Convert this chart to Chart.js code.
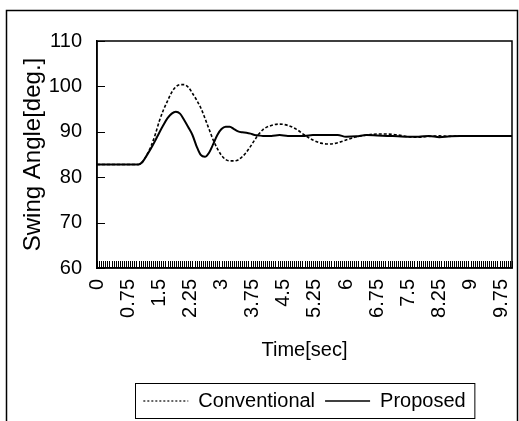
<!DOCTYPE html>
<html>
<head>
<meta charset="utf-8">
<script src="https://cdn.jsdelivr.net/npm/chart.js@4.4.0/dist/chart.umd.min.js"></script>
<style>
  html, body { margin: 0; padding: 0; background: #fff; }
  canvas { display: block; }
</style>
</head>
<body>
<canvas id="swingChart" width="519" height="421"></canvas>
<script>
// time [sec]
const times = [0, 0.5, 1.0, 1.1, 1.2, 1.3, 1.4, 1.5, 1.6, 1.7, 1.8, 1.9, 2.0, 2.1, 2.2, 2.3, 2.4, 2.5,
  2.6, 2.7, 2.8, 2.9, 3.0, 3.1, 3.2, 3.3, 3.4, 3.5, 3.6, 3.7, 3.8, 3.9, 4.0, 4.2, 4.4, 4.6, 4.8,
  5.0, 5.2, 5.4, 5.6, 5.8, 6.0, 6.25, 6.5, 6.75, 7.0, 7.25, 7.5, 7.75, 8.0, 8.25, 8.5, 8.75, 9.0, 9.5, 10.0];

// swing angle [deg.]
const conventional = [82.8, 82.8, 82.8, 83.4, 84.9, 86.8, 89.3, 92.3, 94.8, 96.8, 98.7, 99.9, 100.4, 100.4, 99.8, 98.5, 97.0, 95.3,
  93.0, 90.6, 88.2, 86.3, 84.8, 83.9, 83.6, 83.6, 83.8, 84.5, 85.5, 86.8, 88.2, 89.5, 90.5, 91.4, 91.7, 91.4, 90.6,
  89.3, 88.2, 87.5, 87.3, 87.6, 88.2, 88.9, 89.3, 89.5, 89.5, 89.3, 88.9, 88.8, 89.0, 89.1, 89.0, 89.1, 89.1, 89.1, 89.1];

const proposed = [82.8, 82.8, 82.8, 83.4, 84.8, 86.3, 88.0, 89.8, 91.5, 93.0, 94.0, 94.4, 94.0, 92.6, 91.0, 89.3, 86.8, 84.9,
  84.5, 85.4, 87.3, 89.3, 90.6, 91.1, 91.1, 90.6, 90.1, 89.9, 89.8, 89.6, 89.3, 89.2, 89.1, 89.1, 89.3, 89.1, 89.1,
  89.1, 89.3, 89.3, 89.3, 89.3, 88.9, 89.0, 89.3, 89.2, 89.1, 89.0, 88.9, 88.9, 89.1, 88.8, 89.0, 89.1, 89.1, 89.1, 89.1];

const yMin = 60, yMax = 110, yStep = 10;
const xMin = 0, xMax = 10;
const xTickStep = 0.05;   // small hash marks along the time axis
const xLabelStep = 0.75;  // labelled ticks

const font = '"Liberation Sans", Arial, sans-serif';

// frame, inward tick marks, outer border and legend box
const frameAndTicks = {
  id: 'frameAndTicks',
  afterLayout(chart) {
    // centre the legend under the plot area
    const lg = chart.legend;
    const a = chart.chartArea;
    const dx = (a.left + a.right) / 2 - (lg.left + lg.right) / 2;
    lg.left += dx;
    lg.right += dx;
  },
  afterDraw(chart) {
    const {ctx, chartArea: a, scales: {x, y}} = chart;
    ctx.save();
    ctx.strokeStyle = '#000';
    ctx.lineWidth = 1;
    ctx.beginPath();
    x.ticks.forEach(t => {
      const px = Math.round(x.getPixelForValue(t.value)) + 0.5;
      ctx.moveTo(px, a.bottom);
      ctx.lineTo(px, a.bottom - 7);
    });
    y.ticks.forEach(t => {
      const py = Math.round(y.getPixelForValue(t.value)) + 0.5;
      ctx.moveTo(a.left, py);
      ctx.lineTo(a.left + 8, py);
    });
    ctx.stroke();

    ctx.lineWidth = 1.5;
    ctx.strokeRect(a.left, a.top, a.right - a.left, a.bottom - a.top);

    // outer chart border
    ctx.strokeRect(6.5, 10.5, chart.width - 8, chart.height);

    // legend box
    const lg = chart.legend;
    const pad = lg.options.labels.padding;
    const start = (lg.left + pad + lg.right - lg.lineWidths[0]) / 2;
    const end = start + lg.lineWidths[0] - pad;
    ctx.lineWidth = 1;
    ctx.strokeRect(Math.round(start) - 7.5, lg.top + 2.5, end - start + 17, 35);
    ctx.restore();
  }
};

const ctx = document.getElementById('swingChart').getContext('2d');

new Chart(ctx, {
  type: 'line',
  data: {
    datasets: [{
      label: 'Conventional',
      data: times.map((t, i) => ({x: t, y: conventional[i]})),
      borderColor: '#000',
      backgroundColor: '#000',
      borderWidth: 1.6,
      borderDash: [3, 2],
      pointRadius: 0,
      cubicInterpolationMode: 'monotone',
      fill: false
    }, {
      label: 'Proposed',
      data: times.map((t, i) => ({x: t, y: proposed[i]})),
      borderColor: '#000',
      backgroundColor: '#000',
      borderWidth: 2,
      pointRadius: 0,
      cubicInterpolationMode: 'monotone',
      fill: false
    }]
  },
  options: {
    responsive: false,
    animation: false,
    layout: { padding: { left: 6, top: 41, right: 7, bottom: 0 } },
    scales: {
      x: {
        type: 'linear',
        min: xMin,
        max: xMax,
        grid: { display: true, drawOnChartArea: false, drawTicks: false },
        border: { display: true, color: '#000', width: 1.5 },
        ticks: {
          stepSize: xTickStep,
          autoSkip: false,
          minRotation: 90,
          maxRotation: 90,
          padding: 11,
          color: '#000',
          font: { family: font, size: 20 },
          callback: v => {
            const k = v / xLabelStep;
            return Math.abs(k - Math.round(k)) < 1e-6 ? String(Math.round(k) * xLabelStep) : '';
          }
        },
        title: {
          display: true,
          text: 'Time[sec]',
          color: '#000',
          font: { family: font, size: 20 },
          padding: { top: 0, bottom: 19 }
        },
        afterFit: s => { s.height = 113; s.paddingLeft = 0; s.paddingRight = 0; }
      },
      y: {
        min: yMin,
        max: yMax,
        grid: { display: true, drawOnChartArea: false, drawTicks: false },
        border: { display: true, color: '#000', width: 1.5 },
        ticks: {
          stepSize: yStep,
          padding: 15,
          color: '#000',
          font: { family: font, size: 20 }
        },
        title: {
          display: true,
          text: 'Swing Angle[deg.]',
          color: '#000',
          font: { family: font, size: 24 },
          padding: { top: 13, bottom: 0 }
        },
        afterFit: s => { s.width = 91; s.paddingTop = 0; s.paddingBottom = 0; }
      }
    },
    plugins: {
      legend: {
        position: 'bottom',
        labels: {
          usePointStyle: true,
          pointStyle: 'line',
          pointStyleWidth: 45,
          padding: 10,
          color: '#000',
          font: { family: font, size: 20 },
          generateLabels: chart => Chart.defaults.plugins.legend.labels.generateLabels(chart).map(item => {
            const ds = chart.data.datasets[item.datasetIndex];
            item.lineDash = ds.borderDash ? [2, 2] : [];
            item.lineWidth = ds.borderDash ? 1.2 : 1.5;
            return item;
          })
        }
      },
      tooltip: { enabled: false }
    }
  },
  plugins: [frameAndTicks]
});
</script>
</body>
</html>
